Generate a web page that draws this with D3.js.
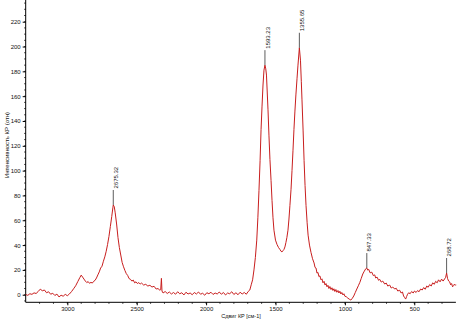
<!DOCTYPE html>
<html><head><meta charset="utf-8">
<script src="https://cdn.jsdelivr.net/npm/d3@7"></script>
<style>
html,body{margin:0;padding:0;background:#fff;}
svg text{font-family:"Liberation Sans",Arial,sans-serif;fill:#111;}
</style></head>
<body><svg id="c" width="458" height="322"></svg>
<script>
const shift = [3300,3285,3270,3255,3240,3225,3210,3195,3180,3165,3150,3135,3120,3105,3090,3075,3060,3045,3030,3015,
3000,2985,2970,2955,2940,2925,2910,2900,2890,2880,2870,2860,2850,2840,2830,2820,2810,2800,2790,2780,2770,2760,2750,2740,2730,2720,2710,2700,2690,2680,2672,2669,2662,2655,2645,2635,2625,2615,2605,2595,2585,2575,2565,2555,2545,2535,2525,2515,2505,2495,2485,2475,2465,2450,2435,2420,2405,2390,2375,2360,2345,2335,2327,2322,2318,2310,2295,2280,2265,2250,2235,2220,2205,2190,2175,2160,2145,2130,2115,2100,2085,2070,2055,2040,2025,2010,1995,1980,1965,1950,1935,1920,1905,1890,1875,1860,1845,1830,1815,1800,1785,1770,1755,1740,1725,1710,1697,1685,1675,1665,1655,1645,1635,1627,1619,1611,1604,1597,1590,1583,1576,1570,1565,1554,1547,1540,1532,1525,1518,1511,1500,1489,1478,1468,1460,1453,1446,1439,1432,1425,1418,1410,1403,1396,1388,1381,1374,1367,1360,1353,1345,1338,1328,1320,1314,1309,1301,1294,1287,1280,1272,1265,1255,1244,1233,1222,1215,1208,1201,1194,1187,1180,1172,1165,1158,1150,1143,1136,1129,1122,1115,1108,1100,1093,1086,1079,1072,1065,1058,1050,1043,1036,1029,1022,1014,1007,1000,990,979,968,957,946,936,925,914,903,892,882,871,860,849,842,835,828,818,806,795,785,778,768,757,749,738,727,713,702,691,677,666,655,641,630,619,605,595,585,577,570,562,555,548,540,530,519,508,498,487,476,466,454,443,432,421,410,400,389,378,367,356,346,335,325,314,303,292,281,274,267,260,252,245,238,231,224,217,210,202,200];
const intensity = [0.2,-0.5,0.8,0.3,1.5,1.0,2.6,4.5,3.2,3.8,1.6,2.4,0.4,1.2,-0.6,0.5,-1.8,-0.4,-1.2,0.3,
-0.8,0.6,2.5,4.8,7.2,10.5,13.8,15.8,14.2,12.6,11.0,9.8,10.6,9.2,10.0,9.4,10.8,11.6,13.5,16.0,18.4,21.5,23.0,27.0,30.5,35.0,40.5,47.0,55.0,63.0,70.0,72.3,71.0,66.0,57.0,46.0,38.0,32.0,26.0,22.5,19.5,17.0,15.5,13.0,12.4,11.0,11.8,9.6,10.4,9.0,9.8,8.6,9.4,7.8,8.4,7.0,7.6,6.2,6.8,4.6,5.0,3.6,4.2,13.2,3.0,1.4,2.6,1.0,2.2,0.6,1.8,0.4,2.4,0.8,1.6,-0.2,2.0,0.6,1.4,0.0,1.8,0.6,2.2,0.4,1.2,-0.4,1.6,0.8,2.0,0.2,1.4,0.6,2.2,0.4,1.8,-0.2,1.4,0.8,2.4,0.2,1.6,0.0,2.0,0.6,1.8,0.4,2.6,3.8,8.0,12.0,20.0,30.0,44.0,62.0,84.0,108.0,133.0,152.0,169.0,181.0,185.0,182.0,177.0,149.0,128.0,109.0,92.0,76.0,62.0,52.0,44.0,40.5,38.0,36.5,35.0,34.5,35.5,36.5,38.5,42.0,46.0,52.0,61.0,72.0,85.0,100.0,116.0,133.0,148.0,161.0,174.0,185.0,199.0,189.0,172.0,157.0,132.0,108.0,88.0,72.0,58.0,48.0,40.0,34.0,29.0,25.6,22.0,21.5,17.4,18.0,14.6,15.2,12.0,12.8,9.6,10.8,7.8,9.0,6.4,7.6,5.0,6.6,4.2,5.6,3.4,4.8,2.6,4.2,2.0,3.4,1.4,2.8,0.6,1.8,-0.2,0.8,-1.2,-1.6,-2.7,-3.6,-4.3,-2.8,-1.0,1.8,4.6,7.2,10.0,13.2,16.7,19.0,21.0,21.5,19.8,20.4,17.6,18.2,15.4,16.0,13.5,14.2,11.6,12.4,10.2,11.0,8.6,9.4,7.0,7.8,5.4,6.2,4.6,5.2,3.0,3.6,1.4,2.2,-1.0,-2.2,-3.5,-1.4,0.4,1.6,0.8,2.6,1.4,3.0,1.8,3.4,2.4,4.6,3.8,5.8,4.4,7.0,6.0,8.2,7.0,9.6,8.4,10.8,9.6,12.0,10.4,12.6,11.0,12.8,14.0,17.5,13.0,11.0,10.4,8.0,9.0,6.4,7.2,8.6,7.6,8.0];

const peakShift = [2669, 1576, 1328, 842, 267];
const peakValue = [72.3, 185.0, 199.0, 21.5, 17.5];
const peakLabel = ["2675.32", "1593.23", "1355.65", "847.33", "268.72"];

const xTicks = [3000, 2500, 2000, 1500, 1000, 500];
const yTicks = [0, 20, 40, 60, 80, 100, 120, 140, 160, 180, 200, 220];
const xTitle = "Сдвиг КР [см-1]";
const yTitle = "Интенсивность КР (отн)";

const svg = d3.select("#c");
const x = d3.scaleLinear().domain([3300, 200]).range([25.7, 455.9]);
const y = d3.scaleLinear().domain([-6.1, 237.5]).range([302.3, 0]);

// Y axis
const yAxis = d3.axisLeft(y).tickValues(yTicks).tickSize(3).tickPadding(2);
const gy = svg.append("g").attr("transform", "translate(25.7,0)").call(yAxis);
gy.select(".domain").attr("d", "M0,0V302.3").attr("stroke", "#000");
gy.selectAll("text").attr("font-size", "6px").attr("font-family", "Liberation Sans, Arial, sans-serif");
const yMinor = d3.range(-5, 236, 5);
svg.append("g").attr("transform", "translate(25.7,0)").selectAll("line").data(yMinor).join("line")
  .attr("x1", -1.5).attr("x2", 0).attr("y1", d => y(d)).attr("y2", d => y(d)).attr("stroke", "#000").attr("stroke-width", 0.8);

// X axis
const xAxis = d3.axisBottom(x).tickValues(xTicks).tickSize(3).tickPadding(1.5).tickFormat(d3.format("d"));
const gx = svg.append("g").attr("transform", "translate(0,302.3)").call(xAxis);
gx.select(".domain").attr("d", "M25.7,0H455.9").attr("stroke", "#000");
gx.selectAll("text").attr("font-size", "6px").attr("font-family", "Liberation Sans, Arial, sans-serif");
const xMinor = d3.range(300, 3300, 100);
svg.append("g").attr("transform", "translate(0,302.3)").selectAll("line").data(xMinor).join("line")
  .attr("x1", d => x(d)).attr("x2", d => x(d)).attr("y1", 0).attr("y2", 1.5).attr("stroke", "#000").attr("stroke-width", 0.8);

// Titles
svg.append("text").attr("x", 241).attr("y", 318).attr("text-anchor", "middle").attr("font-size", "5.5px").text(xTitle);
svg.append("text").attr("transform", "translate(9,145) rotate(-90)").attr("text-anchor", "middle").attr("font-size", "6px").text(yTitle);

// Spectrum
const pts = shift.map((s, i) => [s, intensity[i]]);
svg.append("path").datum(pts)
  .attr("fill", "none").attr("stroke", "#c81e1e").attr("stroke-width", 1)
  .attr("d", d3.line().x(d => x(d[0])).y(d => y(d[1])));

// Peak labels
const pk = svg.append("g");
peakShift.forEach((s, i) => {
  const px = x(s), py = y(peakValue[i]);
  pk.append("line").attr("x1", px).attr("x2", px).attr("y1", py).attr("y2", py - 15)
    .attr("stroke", "#333").attr("stroke-width", 0.8);
  pk.append("text").attr("transform", `translate(${px + 4.6},${py - 16.5}) rotate(-90)`)
    .attr("font-size", "6px").text(peakLabel[i]);
});
</script></body></html>
